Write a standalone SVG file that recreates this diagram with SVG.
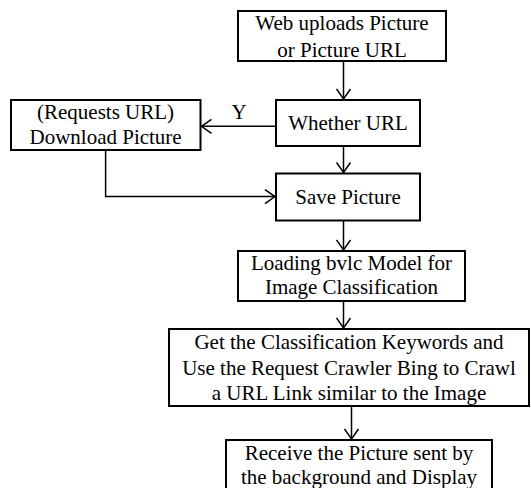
<svg xmlns="http://www.w3.org/2000/svg" width="531" height="488" viewBox="0 0 531 488">
<defs>
<style>
.box{fill:#fff;stroke:#000;stroke-width:2}
.t{font-family:'Liberation Serif','Times New Roman','DejaVu Serif',serif;font-size:21px;fill:#000;text-anchor:middle}
.c{fill:none;stroke:#000;stroke-width:1.5}
</style>
<marker id="ah" markerWidth="14" markerHeight="16" refX="11" refY="8" orient="auto" markerUnits="userSpaceOnUse">
<path d="M1,1 L11,8 L1,15" fill="none" stroke="#000" stroke-width="1.5"/>
</marker>
</defs>
<rect width="531" height="488" fill="#fff"/>
<g id="connectors">
<path class="c" d="M343.5,61 V99" marker-end="url(#ah)"/>
<path class="c" d="M276,126.3 H201.5" marker-end="url(#ah)"/>
<path class="c" d="M343.5,146 V172.5" marker-end="url(#ah)"/>
<path class="c" d="M105.6,150 V196.6 H275" marker-end="url(#ah)"/>
<path class="c" d="M343.5,220.5 V250" marker-end="url(#ah)"/>
<path class="c" d="M343.5,301 V328" marker-end="url(#ah)"/>
<path class="c" d="M351.5,406 V439" marker-end="url(#ah)"/>
<text class="t" x="239" y="118.5" font-family="Liberation Serif, serif">Y</text>
</g>
<g id="n1">
<rect class="box" x="238" y="11" width="208" height="50"/>
<text class="t" x="342" y="30">Web uploads Picture</text>
<text class="t" x="342" y="57">or Picture URL</text>
</g>
<g id="n2">
<rect class="box" x="276" y="100" width="144" height="46"/>
<text class="t" x="348" y="130">Whether URL</text>
</g>
<g id="n3">
<rect class="box" x="11" y="100" width="189.5" height="50"/>
<text class="t" x="105.6" y="118.5">(Requests URL)</text>
<text class="t" x="105.6" y="144">Download Picture</text>
</g>
<g id="n4">
<rect class="box" x="276" y="173.5" width="144" height="47"/>
<text class="t" x="348" y="203.5">Save Picture</text>
</g>
<g id="n5">
<rect class="box" x="238" y="251" width="227" height="50"/>
<text class="t" x="351.5" y="269.5">Loading bvlc Model for</text>
<text class="t" x="351.5" y="294">Image Classification</text>
</g>
<g id="n6">
<rect class="box" x="169" y="329" width="360" height="77"/>
<text class="t" x="349" y="349">Get the Classification Keywords and</text>
<text class="t" x="349" y="374.5">Use the Request Crawler Bing to Crawl</text>
<text class="t" x="349" y="400">a URL Link similar to the Image</text>
</g>
<g id="n7">
<rect class="box" x="226" y="440" width="266" height="52"/>
<text class="t" x="359" y="459.5">Receive the Picture sent by</text>
<text class="t" x="359" y="484">the background and Display</text>
</g>
</svg>
